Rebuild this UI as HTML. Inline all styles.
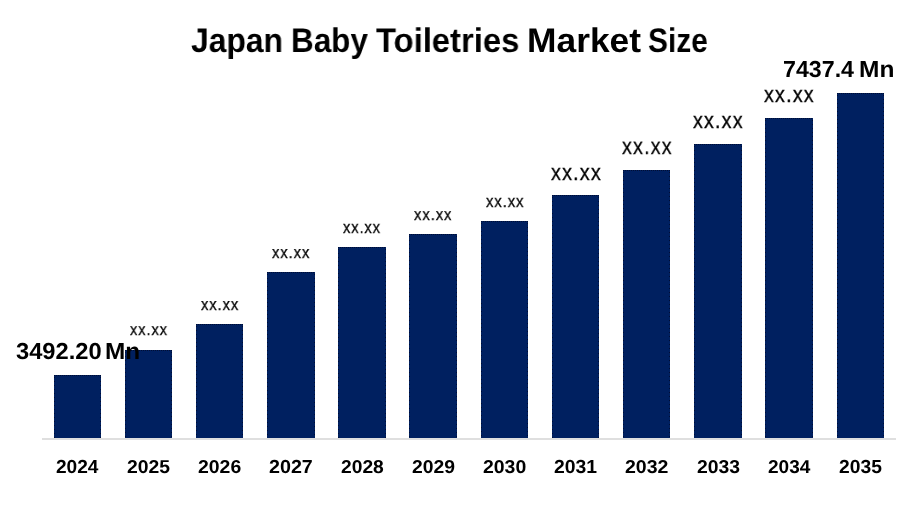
<!DOCTYPE html>
<html><head><meta charset="utf-8"><title>Japan Baby Toiletries Market Size</title><style>
html,body{margin:0;padding:0;background:#fff;}
body{width:900px;height:525px;position:relative;overflow:hidden;font-family:"Liberation Sans",sans-serif;}
.b{position:absolute;background-color:#002060;background-image:repeating-linear-gradient(90deg,#000d33 0 1px,transparent 1px 2px),repeating-linear-gradient(180deg,#000d33 0 1px,transparent 1px 4px),repeating-linear-gradient(180deg,#000d33 0 1px,transparent 1px 4px);background-size:100% 1px,1px 100%,1px 100%;background-position:0 0,0 2px,100% 2px;background-repeat:no-repeat;}
.t{position:absolute;line-height:1;white-space:nowrap;transform-origin:0 0;color:#000;will-change:transform;text-rendering:geometricPrecision;}
.ax{position:absolute;left:42px;top:438px;width:854px;height:2px;background:#dfdfdf;}
</style></head><body>
<div class="ax"></div>
<div class="b" style="left:54px;top:375px;width:47px;height:63px"></div>
<div class="b" style="left:125px;top:350px;width:47px;height:88px"></div>
<div class="b" style="left:196px;top:324px;width:47px;height:114px"></div>
<div class="b" style="left:267px;top:272px;width:48px;height:166px"></div>
<div class="b" style="left:338px;top:247px;width:48px;height:191px"></div>
<div class="b" style="left:409px;top:234px;width:48px;height:204px"></div>
<div class="b" style="left:481px;top:221px;width:47px;height:217px"></div>
<div class="b" style="left:552px;top:195px;width:47px;height:243px"></div>
<div class="b" style="left:623px;top:170px;width:47px;height:268px"></div>
<div class="b" style="left:694px;top:144px;width:48px;height:294px"></div>
<div class="b" style="left:765px;top:118px;width:48px;height:320px"></div>
<div class="b" style="left:837px;top:93px;width:47px;height:345px"></div>
<div class="t" style="left:191.330px;top:23.602px;font-size:34.149px;font-weight:700;transform:scaleX(0.9326);">Japan</div>
<div class="t" style="left:290.586px;top:23.602px;font-size:34.149px;font-weight:700;transform:scaleX(0.9217);">Baby</div>
<div class="t" style="left:376.103px;top:23.602px;font-size:34.149px;font-weight:700;transform:scaleX(0.9609);">Toiletries</div>
<div class="t" style="left:527.423px;top:23.602px;font-size:34.149px;font-weight:700;transform:scaleX(1.0365);">Market</div>
<div class="t" style="left:647.680px;top:23.602px;font-size:34.149px;font-weight:700;transform:scaleX(0.8763);">Size</div>
<div class="t" style="left:15.770px;top:340.077px;font-size:23.147px;font-weight:700;transform:scaleX(1.0253);">3492.20</div>
<div class="t" style="left:105.320px;top:340.077px;font-size:23.147px;font-weight:700;transform:scaleX(1.0535);">Mn</div>
<div class="t" style="left:783.011px;top:57.605px;font-size:23.112px;font-weight:700;transform:scaleX(1.0047);">7437.4</div>
<div class="t" style="left:858.994px;top:57.605px;font-size:23.112px;font-weight:700;transform:scaleX(1.0594);">Mn</div>
<div class="t" style="left:55.630px;top:457.584px;font-size:18.843px;font-weight:700;transform:scaleX(1.0145);">2024</div>
<div class="t" style="left:127.395px;top:457.609px;font-size:18.628px;font-weight:700;transform:scaleX(1.0396);">2025</div>
<div class="t" style="left:198.273px;top:457.656px;font-size:18.612px;font-weight:700;transform:scaleX(1.0428);">2026</div>
<div class="t" style="left:269.220px;top:457.584px;font-size:18.843px;font-weight:700;transform:scaleX(1.0459);">2027</div>
<div class="t" style="left:340.541px;top:457.692px;font-size:18.641px;font-weight:700;transform:scaleX(1.0335);">2028</div>
<div class="t" style="left:412.047px;top:457.653px;font-size:18.609px;font-weight:700;transform:scaleX(1.0403);">2029</div>
<div class="t" style="left:483.101px;top:457.974px;font-size:18.521px;font-weight:700;transform:scaleX(1.0498);">2030</div>
<div class="t" style="left:554.157px;top:457.557px;font-size:18.850px;font-weight:700;transform:scaleX(1.0276);">2031</div>
<div class="t" style="left:625.280px;top:457.609px;font-size:18.628px;font-weight:700;transform:scaleX(1.0493);">2032</div>
<div class="t" style="left:696.709px;top:458.305px;font-size:18.529px;font-weight:700;transform:scaleX(1.0458);">2033</div>
<div class="t" style="left:767.858px;top:457.785px;font-size:18.567px;font-weight:700;transform:scaleX(1.0268);">2034</div>
<div class="t" style="left:839.006px;top:457.529px;font-size:18.857px;font-weight:700;transform:scaleX(1.0220);">2035</div>
<div class="t" style="left:129.848px;top:321.613px;font-size:16.474px;font-weight:400;transform:scaleX(0.8861);letter-spacing:1.047px;-webkit-text-stroke:0.300px #000;">xx.xx</div>
<div class="t" style="left:200.574px;top:296.546px;font-size:16.881px;font-weight:400;transform:scaleX(0.8717);letter-spacing:1.084px;-webkit-text-stroke:0.300px #000;">xx.xx</div>
<div class="t" style="left:271.908px;top:244.794px;font-size:16.878px;font-weight:400;transform:scaleX(0.8744);letter-spacing:1.056px;-webkit-text-stroke:0.300px #000;">xx.xx</div>
<div class="t" style="left:342.901px;top:219.042px;font-size:17.244px;font-weight:400;transform:scaleX(0.8477);letter-spacing:1.074px;-webkit-text-stroke:0.300px #000;">xx.xx</div>
<div class="t" style="left:413.583px;top:206.915px;font-size:16.785px;font-weight:400;transform:scaleX(0.8819);letter-spacing:1.070px;-webkit-text-stroke:0.300px #000;">xx.xx</div>
<div class="t" style="left:485.667px;top:193.251px;font-size:17.073px;font-weight:400;transform:scaleX(0.8697);letter-spacing:1.058px;-webkit-text-stroke:0.300px #000;">xx.xx</div>
<div class="t" style="left:551.168px;top:160.785px;font-size:22.968px;font-weight:400;transform:scaleX(0.8582);letter-spacing:1.422px;-webkit-text-stroke:0.300px #000;">xx.xx</div>
<div class="t" style="left:621.782px;top:134.941px;font-size:23.144px;font-weight:400;transform:scaleX(0.8496);letter-spacing:1.433px;-webkit-text-stroke:0.300px #000;">xx.xx</div>
<div class="t" style="left:692.805px;top:109.129px;font-size:22.746px;font-weight:400;transform:scaleX(0.8613);letter-spacing:1.437px;-webkit-text-stroke:0.300px #000;">xx.xx</div>
<div class="t" style="left:763.869px;top:82.848px;font-size:22.887px;font-weight:400;transform:scaleX(0.8601);letter-spacing:1.424px;-webkit-text-stroke:0.300px #000;">xx.xx</div>
</body></html>
